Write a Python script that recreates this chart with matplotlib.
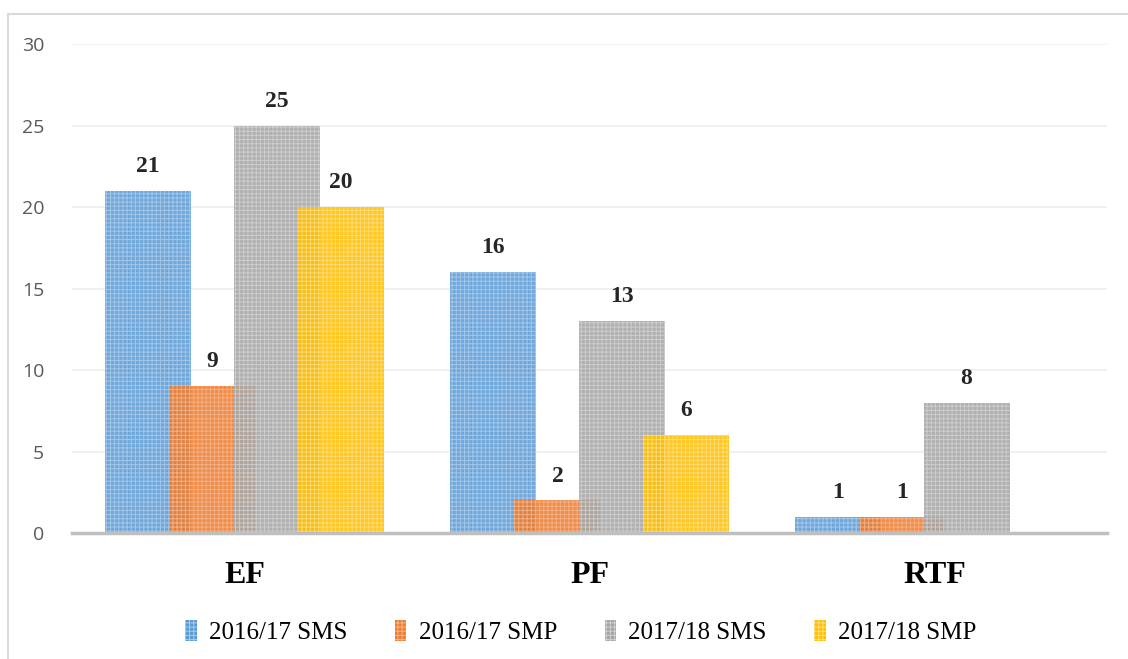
import numpy as np
import matplotlib
matplotlib.use("Agg")
import matplotlib.pyplot as plt
from matplotlib.lines import Line2D

# datos
categorias = ["EF", "PF", "RTF"]
series = ["2016/17 SMS", "2016/17 SMP", "2017/18 SMS", "2017/18 SMP"]
sms_1617 = [21, 16, 1]
smp_1617 = [9, 2, 1]
sms_1718 = [25, 13, 8]
smp_1718 = [20, 6, 0]
valores = [sms_1617, smp_1617, sms_1718, smp_1718]

colores = ["#5B9BD5", "#ED7D31", "#A5A5A5", "#FFC000"]
tramas = ["#A9CBEC", "#F6B48A", "#D0D0D0", "#FFDD80"]

plt.rcParams["hatch.linewidth"] = 0.7

fig = plt.figure(figsize=(11.28, 6.59), dpi=100)
ax = fig.add_axes([0.0638, 0.1912, 0.9176, 0.742])

x = np.arange(len(categorias))
ancho = 0.249
paso = 0.186

for j, vals in enumerate(valores):
    pos = x + (j - 1.5) * paso
    ax.bar(pos, vals, width=ancho, color=colores[j], edgecolor=tramas[j],
           linewidth=0, hatch="++++", alpha=0.88, zorder=2 + j)
    for xi, v in zip(pos, vals):
        if v > 0:
            ax.annotate(str(v), (xi, v), xytext=(0, 10), textcoords="offset points",
                        ha="center", va="bottom", fontsize=17, fontweight="bold",
                        family="Liberation Serif", color="#262626", zorder=10)

ax.set_xlim(-0.5, 2.5)
ax.set_ylim(0, 30)
ax.set_yticks(range(0, 31, 5))
ax.yaxis.grid(True, color="#EEEEEE", linewidth=1.2, zorder=0)
ax.set_axisbelow(True)
for s in ["top", "right", "left"]:
    ax.spines[s].set_visible(False)
ax.spines["bottom"].set_color("#BFBFBF")
ax.spines["bottom"].set_linewidth(2.5)
ax.spines["bottom"].set_zorder(20)
ax.tick_params(axis="y", length=0, pad=20, labelsize=14, labelcolor="#595959")
ax.tick_params(axis="x", length=0, pad=20)
for t in ax.get_yticklabels():
    t.set_family("Open Sans")
ax.set_xticks(x)
ax.set_xticklabels(categorias, fontsize=23, fontweight="bold", family="Liberation Serif")

handles = [plt.Rectangle((0, 0), 1, 1, facecolor=colores[j], edgecolor=tramas[j],
                         linewidth=0, hatch="++++") for j in range(4)]
fig.legend(handles, series, loc="center", bbox_to_anchor=(0.515, 0.041), ncol=4,
           frameon=False, handlelength=0.45, handleheight=0.9, handletextpad=0.5,
           columnspacing=1.9, prop={"family": "Liberation Serif", "size": 18})

# borde del grafico
fig.add_artist(Line2D([8 / 1128, 8 / 1128], [0, 1 - 14 / 659], color="#D9D9D9", linewidth=1.5))
fig.add_artist(Line2D([8 / 1128, 1], [1 - 14 / 659, 1 - 14 / 659], color="#D9D9D9", linewidth=1.5))

fig.savefig("out.png", dpi=100)
